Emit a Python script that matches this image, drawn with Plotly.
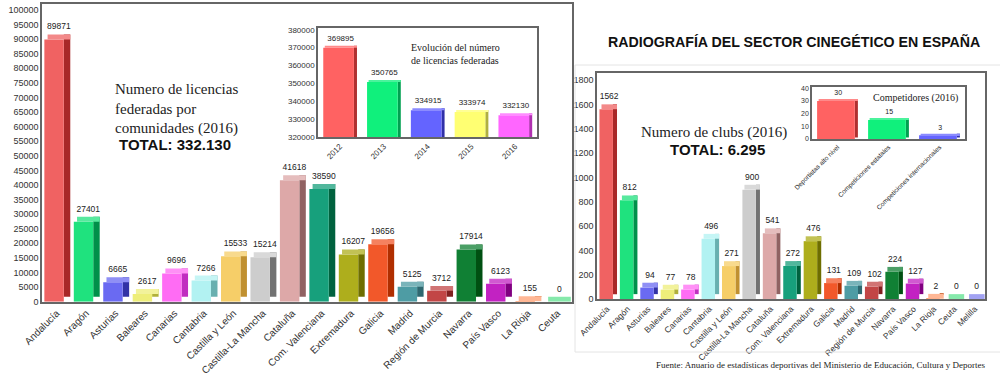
import plotly.graph_objects as go

# ---------------- DATA ----------------
lic_regions = ["Andalucía", "Aragón", "Asturias", "Baleares", "Canarias", "Cantabria",
               "Castilla y León", "Castilla-La Mancha", "Cataluña", "Com. Valenciana",
               "Extremadura", "Galicia", "Madrid", "Región de Murcia", "Navarra",
               "País Vasco", "La Rioja", "Ceuta"]
lic_values = [89871, 27401, 6665, 2617, 9696, 7266, 15533, 15214, 41618, 38590,
              16207, 19656, 5125, 3712, 17914, 6123, 155, 0]

evo_years = ["2012", "2013", "2014", "2015", "2016"]
evo_values = [369895, 350765, 334915, 333974, 332130]

club_regions = lic_regions + ["Melilla"]
club_values = [1562, 812, 94, 77, 78, 496, 271, 900, 541, 272, 476, 131, 109, 102,
               224, 127, 2, 0, 0]

comp_cats = ["Deportistas alto nivel", "Competiciones estatales", "Competiciones internacionales"]
comp_values = [30, 15, 3]

# ---------------- STYLES ----------------
front_colors = ["#F06262", "#1FE27E", "#6A6AF2", "#EEEE7A", "#FF6CF4", "#B2F2F2",
                "#F6CE68", "#CDCDCD", "#DDA8A8", "#17A07C", "#AEAE1C", "#F2582A",
                "#4E9CA4", "#C24646", "#108034", "#C222C2", "#FFA072", "#5EE290",
                "#8484EE"]
side_colors = ["#A82828", "#00904A", "#3232A6", "#B0B03A", "#C02EC0", "#68B0B0",
               "#C09030", "#727272", "#906262", "#00623E", "#6E6E00", "#B02E00",
               "#2E6870", "#802020", "#005012", "#800080", "#D07040", "#2EA060",
               "#5050B0"]
evo_front = ["#FF6262", "#10F07C", "#6464FF", "#FFFF72", "#FF66FF"]
evo_side = ["#B03030", "#00A050", "#3030A8", "#B0B040", "#B030B0"]
comp_front = ["#FF6262", "#10F07C", "#6464FF"]
comp_side = ["#B03030", "#00A050", "#3030A8"]

SANS = "Arial, Liberation Sans, sans-serif"
SERIF = "Liberation Serif, Times New Roman, serif"


def lighten(hexcol, t=0.25):
    r, g, b = (int(hexcol[i:i + 2], 16) for i in (1, 3, 5))
    r, g, b = (int(c + (255 - c) * t) for c in (r, g, b))
    return "#%02X%02X%02X" % (r, g, b)


fig = go.Figure()


def add_bars(cats, vals, fronts, sides, xa, ya, off, w, sw, depth, tsize):
    # side face (shifted up by depth)
    fig.add_trace(go.Bar(
        x=cats, y=vals, base=[depth] * len(vals),
        marker=dict(color=sides, line=dict(width=0)),
        offset=off + w, width=sw, xaxis=xa, yaxis=ya,
        showlegend=False, hoverinfo="skip"))
    # front face
    fig.add_trace(go.Bar(
        x=cats, y=vals, marker=dict(color=fronts, line=dict(width=0)),
        offset=off, width=w, xaxis=xa, yaxis=ya,
        showlegend=False, hoverinfo="x+y"))
    # top face with value label
    fig.add_trace(go.Bar(
        x=cats, y=[depth] * len(vals), base=vals,
        marker=dict(color=[lighten(c) for c in fronts], line=dict(width=0)),
        offset=off + sw * 0.5, width=w + sw * 0.5, xaxis=xa, yaxis=ya,
        text=[str(v) for v in vals], textposition="outside",
        textfont=dict(family=SANS, size=tsize, color="#222"),
        constraintext="none", cliponaxis=False, showlegend=False, hoverinfo="skip"))


add_bars(lic_regions, lic_values, front_colors[:18], side_colors[:18], "x", "y",
         -0.42, 0.66, 0.22, 1700, 8.5)
add_bars(evo_years, evo_values, evo_front, evo_side, "x2", "y2",
         -0.38, 0.7, 0.07, 1200, 8)
add_bars(club_regions, club_values, front_colors, side_colors, "x3", "y3",
         -0.38, 0.66, 0.2, 40, 8.5)
add_bars(comp_cats, comp_values, comp_front, comp_side, "x4", "y4",
         -0.4, 0.74, 0.06, 1.2, 7)

line_style = dict(showline=True, mirror=True, linecolor="#666", linewidth=1.5,
                  showgrid=False, zeroline=False, ticks="", automargin=False)

fig.update_layout(
    width=1000, height=375, margin=dict(l=0, r=0, t=0, b=0, autoexpand=False),
    paper_bgcolor="white", plot_bgcolor="white", barmode="overlay",
    xaxis=dict(domain=[0.042, 0.572], anchor="y", tickangle=-45,
               tickfont=dict(family=SANS, size=10, color="#333"),
               range=[-0.5, 17.5], **line_style),
    yaxis=dict(domain=[0.1955, 0.9893], anchor="x", range=[0, 102000], dtick=5000,
               tickformat="d",
               tickfont=dict(family=SANS, size=9, color="#333"), **line_style),
    xaxis2=dict(domain=[0.318, 0.537], anchor="y2", tickangle=-45,
                tickfont=dict(family=SANS, size=8, color="#333"),
                range=[-0.5, 4.5], **line_style),
    yaxis2=dict(domain=[0.6347, 0.9253], anchor="x2", range=[320000, 381000], dtick=10000,
                tickformat="d",
                tickfont=dict(family=SANS, size=8, color="#333"), **line_style),
    xaxis3=dict(domain=[0.597, 0.985], anchor="y3", tickangle=-45,
                tickfont=dict(family=SANS, size=8.5, color="#333"),
                range=[-0.5, 18.5], **line_style),
    yaxis3=dict(domain=[0.2027, 0.8053], anchor="x3", range=[0, 1860], dtick=200,
                tickformat="d",
                tickfont=dict(family=SANS, size=9, color="#333"), **line_style),
    xaxis4=dict(domain=[0.812, 0.965], anchor="y4", tickangle=-45,
                tickfont=dict(family=SANS, size=6.5, color="#222"),
                range=[-0.5, 2.5], **line_style),
    yaxis4=dict(domain=[0.6293, 0.768], anchor="x4", range=[0, 41], dtick=10,
                tickformat="d",
                tickfont=dict(family=SANS, size=7, color="#333"), **line_style),
)


def py(pix):
    return 1 - pix / 375.0


annots = [
    dict(text="Numero de licencias<br>federadas por<br>comunidades (2016)", x=0.113, y=py(109),
         xanchor="left", yanchor="middle", align="left",
         font=dict(family=SERIF, size=15, color="#222")),
    dict(text="<b>TOTAL: 332.130</b>", x=0.175, y=py(144), xanchor="center", yanchor="middle",
         font=dict(family=SANS, size=15, color="#111")),
    dict(text="Evolución del número<br>de licencias federadas", x=0.409, y=py(54),
         xanchor="left", yanchor="middle", align="left",
         font=dict(family=SERIF, size=10, color="#222")),
    dict(text="<b>RADIOGRAFÍA DEL SECTOR CINEGÉTICO EN ESPAÑA</b>", x=0.794, y=py(42),
         xanchor="center", yanchor="middle",
         font=dict(family=SANS, size=14.2, color="#111")),
    dict(text="Numero de clubs (2016)", x=0.714, y=py(132), xanchor="center", yanchor="middle",
         font=dict(family=SERIF, size=15, color="#222")),
    dict(text="<b>TOTAL: 6.295</b>", x=0.717, y=py(149), xanchor="center", yanchor="middle",
         font=dict(family=SANS, size=15, color="#111")),
    dict(text="Competidores (2016)", x=0.9155, y=py(98), xanchor="center", yanchor="middle",
         font=dict(family=SERIF, size=10, color="#222")),
    dict(text="Fuente: Anuario de estadísticas deportivas del Ministerio de Educación, Cultura y Deportes",
         x=0.987, y=py(365), xanchor="right", yanchor="middle",
         font=dict(family=SERIF, size=9, color="#222")),
]
for a in annots:
    fig.add_annotation(xref="paper", yref="paper", showarrow=False, **a)

# faint panel borders on the right side
border = dict(color="#E4E4E4", width=1)
fig.add_shape(type="line", xref="paper", yref="paper", x0=0.575, x1=1.0, y0=py(65), y1=py(65), line=border)
fig.add_shape(type="line", xref="paper", yref="paper", x0=0.575, x1=0.575, y0=py(65), y1=py(352), line=border)
fig.add_shape(type="line", xref="paper", yref="paper", x0=0.575, x1=1.0, y0=py(352), y1=py(352), line=border)

fig.write_html("out.html", config={"displayModeBar": False},
               post_script="document.body.style.margin='0px';document.body.style.overflow='hidden';")
